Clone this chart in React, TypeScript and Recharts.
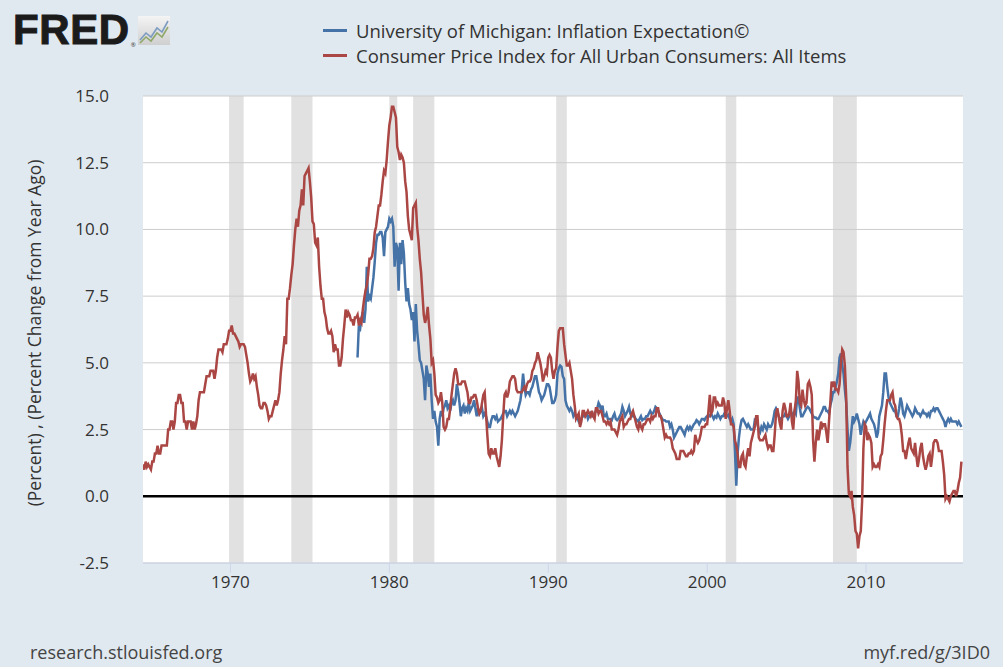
import React from "react";
import {
  LineChart,
  Line,
  XAxis,
  YAxis,
  ReferenceArea,
  ReferenceLine,
} from "recharts";

// CPI, all urban consumers, % change from year ago (monthly, Jul 1964 onward)
const cpi1960s = [
  1.2, 1.0, 1.3, 1.1, 1.2, 1.1,
  1.0, 1.3, 1.3, 1.6, 1.6, 1.9, 1.6, 1.6, 1.9, 1.9, 1.9, 1.9,
  1.9, 2.5, 2.5, 2.8, 2.8, 2.5, 2.8, 3.5, 3.5, 3.8, 3.8, 3.5,
  3.5, 2.8, 2.8, 2.5, 2.8, 2.8, 2.8, 2.5, 2.8, 2.5, 2.7, 3.0,
  3.6, 3.9, 3.9, 3.9, 3.9, 4.2, 4.5, 4.5, 4.5, 4.7, 4.7, 4.7,
  4.4, 4.7, 5.2, 5.5, 5.5, 5.5, 5.4, 5.7, 5.7, 5.7, 5.9, 6.2,
];
const cpi1970s = [
  6.2, 6.4, 6.1, 6.1, 6.0, 5.9, 5.8, 5.6, 5.7, 5.7, 5.7, 5.6,
  5.3, 5.0, 4.6, 4.3, 4.4, 4.6, 4.4, 4.5, 4.1, 3.8, 3.4, 3.3,
  3.3, 3.5, 3.5, 3.4, 3.2, 2.9, 3.0, 3.0, 3.2, 3.4, 3.6, 3.4,
  3.6, 3.9, 4.6, 5.1, 5.5, 6.0, 5.7, 7.4, 7.4, 7.8, 8.3, 8.7,
  9.4, 10.0, 10.4, 10.1, 10.7, 10.9, 11.5, 10.9, 12.0, 12.1, 12.2, 12.3,
  11.8, 11.2, 10.3, 10.2, 9.5, 9.4, 9.7, 8.6, 7.9, 7.4, 7.4, 6.9,
  6.7, 6.3, 6.1, 6.1, 6.2, 6.0, 5.4, 5.7, 5.5, 5.5, 4.9, 4.9,
  5.2, 5.9, 6.4, 7.0, 6.7, 6.9, 6.8, 6.6, 6.6, 6.4, 6.7, 6.7,
  6.8, 6.4, 6.6, 6.5, 7.0, 7.4, 7.7, 7.9, 8.3, 8.9, 8.9, 9.0,
  9.3, 9.9, 10.1, 10.5, 10.9, 10.9, 11.3, 11.8, 12.2, 12.1, 12.6, 13.3,
];
const cpi1980s = [
  13.9, 14.2, 14.6, 14.6, 14.4, 14.2, 13.1, 12.9, 12.6, 12.8, 12.7, 12.5,
  11.8, 11.4, 10.5, 10.0, 9.8, 9.6, 10.8, 10.9, 11.0, 10.1, 9.6, 8.9,
  8.4, 7.6, 6.8, 6.5, 6.7, 7.1, 6.4, 5.9, 5.0, 5.1, 4.6, 3.8,
  3.7, 3.5, 3.6, 3.9, 3.5, 2.6, 2.5, 2.6, 2.9, 2.9, 3.3, 3.8,
  4.2, 4.6, 4.8, 4.6, 4.2, 4.2, 4.2, 4.3, 4.3, 4.3, 4.1, 3.9,
  3.5, 3.5, 3.7, 3.7, 3.8, 3.8, 3.6, 3.3, 3.1, 3.2, 3.5, 3.8,
  3.9, 3.1, 2.3, 1.6, 1.5, 1.8, 1.6, 1.6, 1.8, 1.5, 1.3, 1.1,
  1.5, 2.1, 3.0, 3.8, 3.9, 3.7, 3.9, 4.3, 4.4, 4.5, 4.5, 4.4,
  4.0, 3.9, 3.9, 3.9, 3.9, 4.0, 4.1, 4.0, 4.2, 4.3, 4.3, 4.4,
  4.7, 4.8, 5.0, 5.1, 5.4, 5.2, 5.0, 4.7, 4.3, 4.5, 4.7, 4.6,
];
const cpi1990s = [
  5.2, 5.3, 5.2, 4.7, 4.4, 4.7, 4.8, 5.6, 6.2, 6.3, 6.3, 6.3,
  5.7, 5.3, 4.9, 4.9, 5.0, 4.7, 4.4, 3.8, 3.4, 2.9, 3.0, 3.1,
  2.6, 2.8, 3.2, 3.2, 3.0, 3.1, 3.2, 3.1, 3.0, 3.2, 3.0, 2.9,
  3.3, 3.3, 3.1, 3.2, 3.2, 3.0, 2.8, 2.8, 2.7, 2.8, 2.7, 2.8,
  2.5, 2.5, 2.5, 2.4, 2.3, 2.5, 2.8, 2.9, 3.0, 2.6, 2.7, 2.7,
  2.8, 2.9, 2.9, 3.1, 3.2, 3.0, 2.8, 2.6, 2.5, 2.8, 2.6, 2.5,
  2.7, 2.7, 2.8, 2.9, 2.9, 2.8, 3.0, 2.9, 3.0, 3.0, 3.3, 3.3,
  3.0, 3.0, 2.8, 2.5, 2.2, 2.3, 2.2, 2.2, 2.2, 2.1, 1.8, 1.7,
  1.6, 1.4, 1.4, 1.4, 1.7, 1.7, 1.7, 1.6, 1.5, 1.5, 1.6, 1.6,
  1.7, 1.6, 1.7, 2.3, 2.1, 2.0, 2.1, 2.3, 2.6, 2.6, 2.6, 2.7,
];
const cpi2000s = [
  2.7, 3.2, 3.8, 3.1, 3.2, 3.7, 3.7, 3.4, 3.5, 3.4, 3.4, 3.4,
  3.7, 3.5, 2.9, 3.3, 3.6, 3.2, 2.7, 2.7, 2.6, 2.1, 1.9, 1.6,
  1.1, 1.1, 1.5, 1.6, 1.2, 1.1, 1.5, 1.8, 1.5, 2.0, 2.2, 2.4,
  2.6, 3.0, 3.0, 2.2, 2.1, 2.1, 2.1, 2.2, 2.3, 2.0, 1.8, 1.9,
  1.9, 1.7, 1.7, 2.3, 3.1, 3.3, 3.0, 2.7, 2.5, 3.2, 3.5, 3.3,
  3.0, 3.0, 3.1, 3.5, 2.8, 2.5, 3.2, 3.6, 4.7, 4.3, 3.5, 3.4,
  4.0, 3.6, 3.4, 3.5, 4.2, 4.3, 4.1, 3.8, 2.1, 1.3, 2.0, 2.5,
  2.1, 2.4, 2.8, 2.6, 2.7, 2.7, 2.4, 2.0, 2.8, 3.5, 4.3, 4.1,
  4.3, 4.0, 4.0, 3.9, 4.2, 5.0, 5.5, 5.4, 4.9, 3.7, 1.1, 0.1,
  0.0, 0.2, -0.4, -0.7, -1.3, -1.4, -1.95, -1.5, -1.3, -0.2, 1.8, 2.7,
];
const cpi2010s = [
  2.6, 2.1, 2.3, 2.2, 2.0, 1.1, 1.2, 1.1, 1.1, 1.2, 1.1, 1.5,
  1.6, 2.1, 2.7, 3.2, 3.6, 3.6, 3.6, 3.8, 3.9, 3.5, 3.4, 3.0,
  2.9, 2.9, 2.7, 2.3, 1.7, 1.7, 1.4, 1.7, 2.0, 2.2, 1.8, 1.7,
  1.6, 2.0, 1.5, 1.1, 1.4, 1.8, 2.0, 1.5, 1.2, 1.0, 1.2, 1.5,
  1.6, 1.1, 1.5, 2.0, 2.1, 2.1, 2.0, 1.7, 1.7, 1.7, 1.3, 0.8,
  -0.1, 0.0, -0.1, -0.2, 0.0, 0.1, 0.2, 0.2, 0.0, 0.2, 0.5, 0.7,
  1.3,
];

// University of Michigan inflation expectation (monthly, Jan 1978 onward)
const mich1970s = [
  5.2, 6.4, 6.3, 6.7, 6.9, 6.5, 7.0, 8.6, 7.3, 7.5, 7.4, 7.8,
  8.2, 8.8, 9.5, 9.8, 9.8, 9.9, 9.9, 9.7, 9.0, 9.9, 10.0, 10.1,
];
const mich1980s = [
  10.4, 10.3, 10.4, 10.1, 8.6, 9.5, 9.3, 7.7, 9.5, 8.7, 9.6, 9.1,
  8.0, 7.3, 7.8, 7.2, 7.0, 6.6, 6.9, 5.8, 7.2, 6.2, 5.7, 5.1,
  5.0, 4.7, 4.4, 3.6, 4.9, 4.6, 4.1, 4.6, 3.6, 2.9, 3.2, 2.8,
  2.6, 1.9, 2.9, 3.2, 3.0, 3.3, 3.4, 3.6, 3.3, 3.4, 3.2, 3.5,
  3.6, 3.4, 3.6, 4.2, 3.9, 3.5, 3.0, 3.3, 3.4, 3.1, 3.3, 3.2,
  3.5, 3.2, 3.3, 3.4, 3.6, 3.3, 3.0, 3.3, 3.1, 3.2, 3.3, 3.0,
  3.1, 3.0, 2.8, 2.6, 2.6, 2.85, 3.0, 3.0, 2.9, 3.0, 2.8, 2.85,
  2.9, 3.0, 3.1, 3.2, 3.2, 3.0, 3.1, 3.2, 3.1, 3.2, 3.1, 3.0,
  3.1, 3.2, 3.4, 3.6, 4.0, 4.6, 4.1, 3.8, 3.9, 3.9, 3.8, 4.0,
  4.1, 4.3, 4.5, 4.5, 4.2, 3.9, 3.8, 3.6, 3.7, 3.8, 4.0, 4.2,
];
const mich1990s = [
  4.2, 4.1, 3.8, 3.5, 3.5, 3.6, 3.8, 4.6, 4.8, 4.9, 4.85, 4.5,
  4.4, 3.6, 3.4, 3.3, 3.2, 3.3, 3.2, 3.0, 3.1, 3.0, 3.0, 2.8,
  2.7, 2.9, 3.0, 3.0, 3.1, 3.1, 2.9, 3.0, 3.1, 3.0, 3.0, 3.1,
  3.2, 3.3, 3.5, 3.4, 3.2, 3.4, 3.0, 3.0, 3.1, 2.9, 2.9, 2.9,
  2.85, 3.0, 3.1, 2.9, 2.85, 2.9, 3.0, 3.1, 3.35, 3.2, 3.0, 3.1,
  3.2, 3.35, 3.1, 3.0, 3.0, 3.0, 2.9, 2.85, 2.8, 2.9, 3.0, 2.85,
  2.9, 2.9, 3.0, 3.0, 3.1, 3.2, 3.1, 3.1, 3.2, 3.35, 3.3, 3.2,
  3.1, 3.0, 2.9, 2.85, 2.85, 2.8, 2.8, 2.8, 2.6, 2.7, 2.5, 2.2,
  2.3, 2.4, 2.5, 2.6, 2.6, 2.5, 2.4, 2.3, 2.5, 2.6, 2.5, 2.6,
  2.5, 2.6, 2.7, 2.75, 2.85, 2.8, 2.7, 2.8, 2.9, 2.9, 2.85, 2.95,
];
const mich2000s = [
  3.0, 3.05, 3.0, 3.1, 3.0, 2.9, 3.0, 2.95, 3.1, 3.0, 2.9, 3.0,
  3.0, 3.1, 3.0, 3.0, 3.05, 2.9, 2.8, 2.9, 2.7, 1.7, 0.4, 1.6,
  2.2, 2.6, 2.85, 2.9, 2.8, 2.7, 2.6, 2.7, 2.6, 2.5, 2.5, 2.5,
  2.85, 2.8, 2.7, 2.5, 2.4, 2.6, 2.5, 2.7, 2.6, 2.5, 2.7, 2.6,
  2.6, 2.7, 2.9, 3.2, 3.3, 3.2, 3.0, 2.9, 2.9, 3.0, 3.0, 3.1,
  3.0, 2.9, 3.0, 3.2, 3.1, 3.0, 3.2, 3.1, 3.7, 3.7, 3.3, 3.0,
  3.0, 3.1, 3.2, 3.3, 3.35, 3.3, 3.2, 3.1, 3.0, 2.95, 2.95, 2.9,
  2.9, 3.0, 3.1, 3.2, 3.35, 3.35, 3.2, 3.2, 3.1, 3.4, 3.6, 3.9,
  3.9, 4.1, 4.3, 4.6, 5.2, 5.35, 4.9, 4.6, 4.0, 3.5, 2.5, 1.7,
  2.0, 2.5, 3.0, 2.8, 2.9, 3.1, 2.9, 2.7, 2.3, 2.6, 2.8, 2.7,
];
const mich2010s = [
  2.8, 2.9, 3.0, 3.1, 2.9, 2.8, 2.7, 2.5, 2.2, 2.4, 3.0, 3.2,
  3.4, 3.9, 4.6, 4.6, 4.1, 3.7, 3.5, 3.4, 3.3, 3.2, 3.2, 3.0,
  3.0, 3.3, 3.7, 3.5, 3.1, 3.0, 3.2, 3.4, 3.3, 3.2, 3.1, 3.0,
  3.1, 3.3, 3.2, 3.1, 3.1, 3.0, 3.1, 3.2, 3.1, 3.1, 3.0, 3.1,
  3.0, 3.2, 3.2, 3.3, 3.2, 3.3, 3.3, 3.2, 3.1, 3.0, 2.9, 2.8,
  2.6, 2.8, 2.9, 2.8, 2.9, 2.8, 2.8, 2.8, 2.8, 2.7, 2.8, 2.7,
  2.6,
];

// NBER recessions (start, end) as decimal years
const recessions: [number, number][] = [
  [1969.917, 1970.833],
  [1973.833, 1975.167],
  [1980.0, 1980.5],
  [1981.5, 1982.833],
  [1990.5, 1991.167],
  [2001.167, 2001.833],
  [2007.917, 2009.417],
];

const xTicks = [1970, 1980, 1990, 2000, 2010];
const yTicks = [-2.5, 0, 2.5, 5, 7.5, 10, 12.5, 15];

const FIRST_MONTH = 1964.5;
const MICH_START = 1978;

const cpi = [...cpi1960s, ...cpi1970s, ...cpi1980s, ...cpi1990s, ...cpi2000s, ...cpi2010s];
const mich = [...mich1970s, ...mich1980s, ...mich1990s, ...mich2000s, ...mich2010s];
const michOffset = Math.round((MICH_START - FIRST_MONTH) * 12);

const data = cpi.map((v, i) => ({
  t: FIRST_MONTH + i / 12,
  cpi: v,
  mich: i >= michOffset ? mich[i - michOffset] : null,
}));

const BG = "#e1e9f0";
const BLUE = "#4572a7";
const RED = "#aa4643";
const FONT = "'Open Sans', 'Noto Sans', sans-serif";

function FredLogo() {
  return (
    <div style={{ position: "absolute", left: 13, top: 8, display: "flex", alignItems: "flex-end" }}>
      <span
        style={{
          fontFamily: "'Liberation Sans', Arial, sans-serif",
          fontWeight: 900,
          fontSize: 42,
          color: "#1b1b1b",
          letterSpacing: 0.6,
          lineHeight: "44px",
          WebkitTextStroke: "1px #1b1b1b",
        }}
      >
        FRED
      </span>
      <span style={{ fontSize: 6, color: "#333", marginBottom: 3, marginLeft: 1 }}>®</span>
      <svg width={32} height={29} style={{ marginLeft: 2, marginBottom: 7 }}>
        <defs>
          <linearGradient id="lg" x1="0" y1="0" x2="0" y2="1">
            <stop offset="0" stopColor="#f4f4f4" />
            <stop offset="1" stopColor="#cfcfcf" />
          </linearGradient>
        </defs>
        <rect x={0} y={0} width={32} height={29} fill="url(#lg)" />
        <polyline points="2,24 8,17 13,21 19,12 24,16 30,5" fill="none" stroke="#7d9bc1" strokeWidth={1.6} />
        <polyline points="2,27 8,21 13,25 19,17 24,21 30,11" fill="none" stroke="#8fa86a" strokeWidth={1.6} />
      </svg>
    </div>
  );
}

function LegendRow({ color, label, top }: { color: string; label: string; top: number }) {
  return (
    <div style={{ position: "absolute", left: 323, top, display: "flex", alignItems: "center" }}>
      <div style={{ width: 24, height: 3, background: color, marginRight: 9 }} />
      <span style={{ fontFamily: FONT, fontSize: 18.5, color: "#333", whiteSpace: "nowrap" }}>{label}</span>
    </div>
  );
}

export default function App() {
  return (
    <div
      style={{
        position: "absolute",
        left: 0,
        top: 0,
        width: 1003,
        height: 667,
        background: BG,
        fontFamily: FONT,
        overflow: "hidden",
      }}
    >
      <FredLogo />
      <LegendRow color={BLUE} label="University of Michigan: Inflation Expectation©" top={18} />
      <LegendRow color={RED} label="Consumer Price Index for All Urban Consumers: All Items" top={43} />

      <LineChart
        width={1003}
        height={667}
        data={data}
        margin={{ top: 96, right: 40, bottom: 64, left: 73 }}
        style={{ position: "absolute", left: 0, top: 0 }}
      >
        <XAxis
          dataKey="t"
          type="number"
          domain={[1964.5, 2016.1]}
          ticks={xTicks}
          allowDataOverflow
          height={40}
          tickSize={10}
          tickMargin={3}
          axisLine={{ stroke: "#ccd6eb" }}
          tickLine={{ stroke: "#ccd6eb" }}
          tick={{ fill: "#333", fontSize: 17, fontFamily: FONT }}
        />
        <YAxis
          type="number"
          domain={[-2.5, 15]}
          ticks={yTicks}
          width={70}
          axisLine={false}
          tickLine={false}
          tickSize={6}
          tickMargin={28}
          tickFormatter={(v: number) => v.toFixed(1)}
          tick={{ fill: "#333", fontSize: 17, fontFamily: FONT }}
        />
        <ReferenceArea x1={1964.5} x2={2016.1} y1={-2.5} y2={15} fill="#ffffff" fillOpacity={1} stroke="none" />
        {recessions.map(([a, b]) => (
          <ReferenceArea key={a} x1={a} x2={b} y1={-2.5} y2={15} fill="#e1e1e1" fillOpacity={1} stroke="none" />
        ))}
        {yTicks
          .filter((v) => v !== 0)
          .map((v) => (
            <ReferenceLine key={v} y={v} stroke="#cdcdcd" strokeWidth={1} />
          ))}
        <ReferenceLine y={0} stroke="#000000" strokeWidth={2.5} />
        <Line
          dataKey="mich"
          stroke={BLUE}
          strokeWidth={2.5}
          dot={false}
          type="linear"
          connectNulls={false}
          isAnimationActive={false}
        />
        <Line
          dataKey="cpi"
          stroke={RED}
          strokeWidth={2.5}
          dot={false}
          type="linear"
          isAnimationActive={false}
        />
      </LineChart>

      <div
        style={{
          position: "absolute",
          left: 34,
          top: 333,
          transform: "translate(-50%, -50%) rotate(-90deg)",
          whiteSpace: "nowrap",
          fontSize: 17.5,
          color: "#333",
        }}
      >
        (Percent) , (Percent Change from Year Ago)
      </div>

      <div style={{ position: "absolute", left: 30, top: 640, fontSize: 18, color: "#444" }}>
        research.stlouisfed.org
      </div>
      <div style={{ position: "absolute", right: 13, top: 640, fontSize: 18, color: "#444" }}>
        myf.red/g/3ID0
      </div>
    </div>
  );
}
